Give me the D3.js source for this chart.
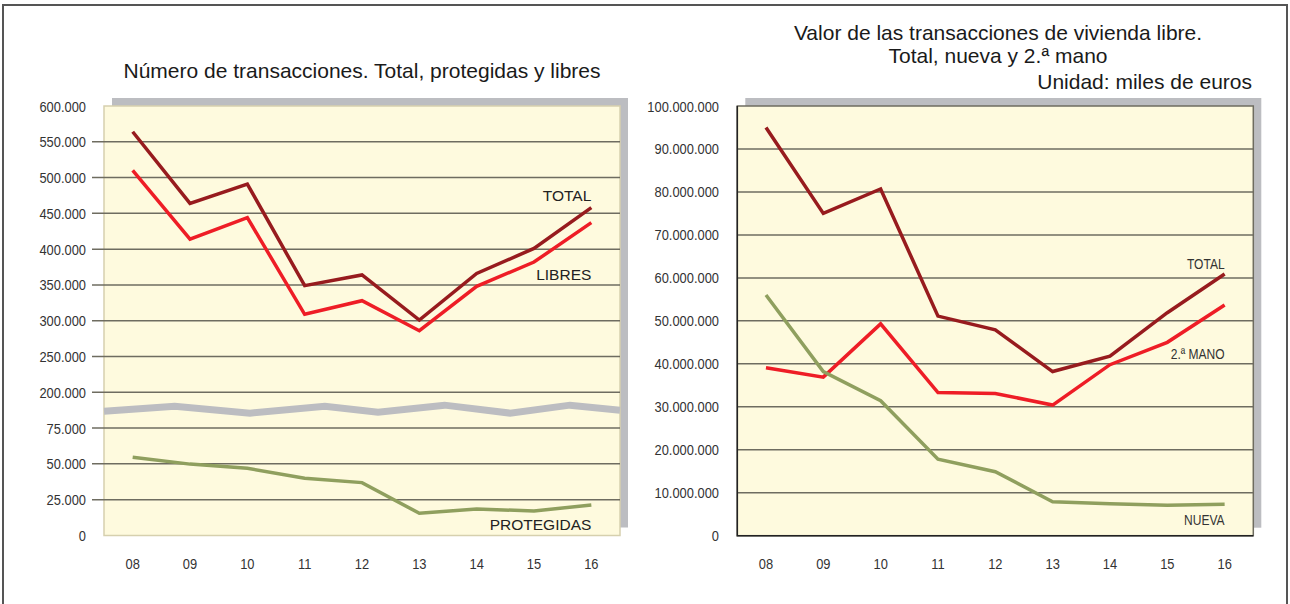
<!DOCTYPE html>
<html>
<head>
<meta charset="utf-8">
<script src="https://cdn.jsdelivr.net/npm/d3@7"></script>
<style>
  body { margin: 0; background: #fff; }
  svg { display: block; }
  .narrow { font-family: "Liberation Sans", Arial, Helvetica, sans-serif; fill: #333; }
  .title { font-family: "Liberation Sans", Arial, Helvetica, sans-serif; font-size: 21px; fill: #1a1a1a; }
</style>
</head>
<body>
<svg id="chart" width="1290" height="604"></svg>
<script>
// datos
const years = ["08", "09", "10", "11", "12", "13", "14", "15", "16"];

// Número de transacciones
const transTotal = [564000, 464000, 491000, 349000, 364000, 301000, 366000, 401000, 458000];
const transLibres = [510000, 414000, 444000, 309000, 328000, 286000, 348000, 382000, 437000];
const transProtegidas = [54600, 49800, 46900, 40000, 36900, 15500, 18500, 17100, 21300];
const leftTicks = [0, 25000, 50000, 75000, 200000, 250000, 300000, 350000, 400000, 450000, 500000, 550000, 600000];

// Valor de las transacciones (miles de euros)
const valorTotal = [95000000, 75000000, 80700000, 51100000, 47900000, 38200000, 41800000, 51900000, 60900000];
const valorSegunda = [39100000, 36900000, 49300000, 33300000, 33100000, 30400000, 39800000, 45000000, 53700000];
const valorNueva = [56000000, 38200000, 31400000, 17800000, 14900000, 7900000, 7450000, 7100000, 7300000];
const rightTicks = [0, 10000000, 20000000, 30000000, 40000000, 50000000, 60000000, 70000000, 80000000, 90000000, 100000000];

const colTotal = "#971b1e";
const colRojo = "#ee1d26";
const colVerde = "#8f9f5e";
const fondo = "#fefade";
const sombra = "#bcbdc1";

const fmt = v => d3.format(",")(v).replace(/,/g, ".");

const svg = d3.select("#chart");

// texto estrechado (la fuente original es condensada)
function narrowText(g, x, y, txt, anchor, size, fill) {
  return g.append("text")
    .attr("class", "narrow")
    .attr("transform", `translate(${x},${y}) scale(0.86,1)`)
    .attr("text-anchor", anchor)
    .attr("font-size", size)
    .attr("fill", fill || "#333")
    .text(txt);
}

// marco exterior
svg.append("path")
  .attr("d", "M3,610 V5 H1287 V610")
  .attr("fill", "none")
  .attr("stroke", "#555")
  .attr("stroke-width", 2);

function panel(opt) {
  const g = svg.append("g");
  const x = d3.scalePoint().domain(years).range([opt.x0, opt.x1]).padding(0.5);
  const y = opt.y;
  const top = opt.top, bottom = opt.bottom;

  // sombra
  g.append("rect")
    .attr("x", opt.x0 + 8).attr("y", top - 8)
    .attr("width", opt.x1 - opt.x0).attr("height", bottom - top)
    .attr("fill", sombra);

  // fondo
  g.append("rect")
    .attr("x", opt.x0).attr("y", top)
    .attr("width", opt.x1 - opt.x0).attr("height", bottom - top)
    .attr("fill", fondo)
    .attr("stroke", opt.border)
    .attr("stroke-width", 1.5);

  // rejilla
  opt.ticks.forEach(t => {
    if (t !== 0 && y(t) > top + 1) {
      g.append("line")
        .attr("x1", opt.gridStart).attr("x2", opt.x1)
        .attr("y1", y(t)).attr("y2", y(t))
        .attr("stroke", "#6e6c60")
        .attr("stroke-width", 1.5);
    }
    narrowText(g, opt.labelX, y(t) + 5.5, fmt(t), "end", 15);
  });

  if (opt.darkAxes) {
    g.append("path")
      .attr("d", `M${opt.x0},${top} V${bottom} H${opt.x1}`)
      .attr("fill", "none")
      .attr("stroke", "#222")
      .attr("stroke-width", 1.5);
  }

  // etiquetas eje x
  years.forEach(yr => {
    narrowText(g, x(yr), bottom + 33, yr, "middle", 15);
  });

  if (opt.extra) opt.extra(g, x, y);

  const line = d3.line().x((d, i) => x(years[i])).y(d => y(d));
  opt.series.forEach(s => {
    g.append("path")
      .datum(s.values)
      .attr("d", line)
      .attr("fill", "none")
      .attr("stroke", s.color)
      .attr("stroke-width", 3.5)
      .attr("stroke-linejoin", "miter");
    if (opt.narrowLabels) {
      narrowText(g, x("16"), s.labelY, s.label, "end", opt.labelSize, "#222");
    } else {
      g.append("text")
        .attr("x", x("16"))
        .attr("y", s.labelY)
        .attr("text-anchor", "end")
        .attr("font-family", "'Liberation Sans', Arial, sans-serif")
        .attr("font-size", opt.labelSize)
        .attr("fill", "#222")
        .text(s.label);
    }
  });
  return {x, y};
}

// Panel izquierdo: eje con corte 75.000 -> 200.000
const yLeft = d3.scaleLinear()
  .domain([0, 75000, 200000, 600000])
  .range([535.5, 428, 392.3, 106]);

panel({
  x0: 104, x1: 620, top: 106, bottom: 535.5,
  y: yLeft, ticks: leftTicks, gridStart: 92, labelX: 86,
  border: "#d6d0ae", darkAxes: false,
  narrowLabels: false, labelSize: 15.5,
  extra: (g, x, y) => {
    // símbolo de corte del eje
    const mid = (y(75000) + y(200000)) / 2;
    const fr = [0, 0.137, 0.283, 0.428, 0.531, 0.66, 0.787, 0.903, 1];
    const off = [1, -4, 3, -4, 2, -5, 3, -5, 0];
    const pts = fr.map((f, i) => [104 + f * 516, mid + off[i]]);
    g.append("path")
      .attr("d", d3.line()(pts))
      .attr("fill", "none")
      .attr("stroke", sombra)
      .attr("stroke-width", 7);
  },
  series: [
    {values: transTotal, color: colTotal, label: "TOTAL", labelY: 201},
    {values: transLibres, color: colRojo, label: "LIBRES", labelY: 280},
    {values: transProtegidas, color: colVerde, label: "PROTEGIDAS", labelY: 530}
  ]
});

// Panel derecho
const yRight = d3.scaleLinear().domain([0, 100000000]).range([535.7, 106]);

panel({
  x0: 737.3, x1: 1253.3, top: 106, bottom: 535.7,
  y: yRight, ticks: rightTicks, gridStart: 737.3, labelX: 719,
  border: "#6e6c60", darkAxes: true,
  narrowLabels: true, labelSize: 14,
  series: [
    {values: valorTotal, color: colTotal, label: "TOTAL", labelY: 269},
    {values: valorSegunda, color: colRojo, label: "2.ª MANO", labelY: 359},
    {values: valorNueva, color: colVerde, label: "NUEVA", labelY: 525}
  ]
});

// títulos
svg.append("text").attr("class", "title")
  .attr("x", 362).attr("y", 78).attr("text-anchor", "middle")
  .text("Número de transacciones. Total, protegidas y libres");
svg.append("text").attr("class", "title")
  .attr("x", 998).attr("y", 40).attr("text-anchor", "middle")
  .text("Valor de las transacciones de vivienda libre.");
svg.append("text").attr("class", "title")
  .attr("x", 998).attr("y", 63).attr("text-anchor", "middle")
  .text("Total, nueva y 2.ª mano");
svg.append("text").attr("class", "title")
  .attr("x", 1252).attr("y", 89).attr("text-anchor", "end")
  .text("Unidad: miles de euros");
</script>
</body>
</html>
